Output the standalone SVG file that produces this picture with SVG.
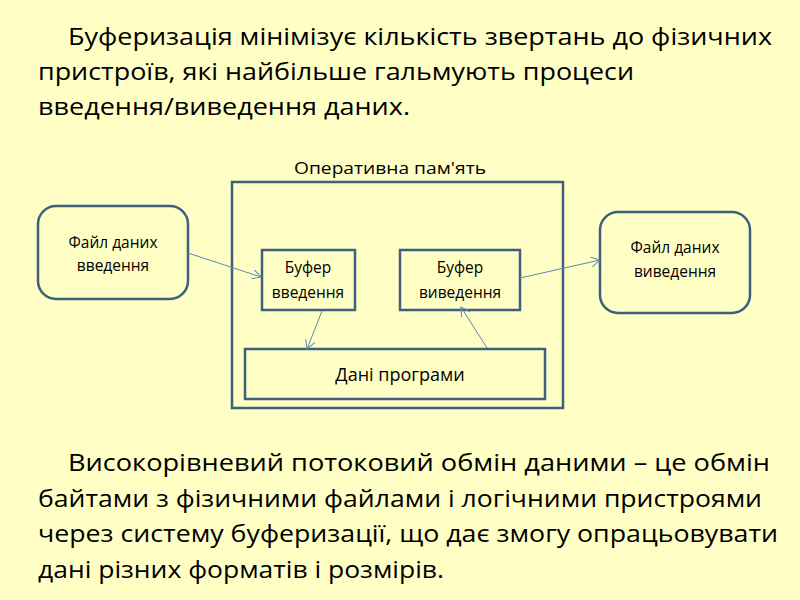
<svg xmlns="http://www.w3.org/2000/svg" width="800" height="600" viewBox="0 0 800 600">
<defs>
<style>
.t{font-family:"Open Sans","Liberation Sans",sans-serif;fill:#000}
.p{font-size:23px}
.n{font-size:15.5px;text-anchor:middle}
.box{fill:none;stroke:#3f5f7f;stroke-width:2.5}
.rbox{fill:#ffffc5;stroke:#3f5f7f;stroke-width:2.5}
.c{stroke:#5b86bd;stroke-width:1;fill:none;marker-end:url(#a)}
</style>
<marker id="a" viewBox="0 0 10 10" refX="9" refY="5" markerWidth="10" markerHeight="10" markerUnits="userSpaceOnUse" orient="auto">
<path d="M0,0 L9,5 L0,10" fill="none" stroke="#5b86bd" stroke-width="1"/>
</marker>
</defs>
<rect width="800" height="600" fill="#ffffc5"/>
<g id="top-text" class="t p">
<text x="68" y="45" textLength="704" lengthAdjust="spacingAndGlyphs">Буферизація мінімізує кількість звертань до фізичних</text>
<text x="38" y="80" textLength="596" lengthAdjust="spacingAndGlyphs">пристроїв, які найбільше гальмують процеси</text>
<text x="38" y="115" textLength="372" lengthAdjust="spacingAndGlyphs">введення/виведення даних.</text>
</g>
<g id="memory">
<rect class="box" x="232" y="182" width="331" height="226"/>
<text class="t n" x="390" y="174" style="font-size:17px" textLength="192" lengthAdjust="spacingAndGlyphs">Оперативна пам'ять</text>
</g>
<g id="input-file">
<rect class="rbox" x="38" y="206" width="150" height="93" rx="18"/>
<text class="t n" x="113" y="248">Файл даних</text>
<text class="t n" x="113" y="271">введення</text>
</g>
<g id="output-file">
<rect class="rbox" x="600" y="212" width="150" height="101" rx="18"/>
<text class="t n" x="675" y="253">Файл даних</text>
<text class="t n" x="675" y="277">виведення</text>
</g>
<g id="input-buffer">
<rect class="box" x="262" y="250" width="93" height="60"/>
<text class="t n" x="308" y="273">Буфер</text>
<text class="t n" x="308" y="298">введення</text>
</g>
<g id="output-buffer">
<rect class="box" x="400" y="250" width="120" height="60"/>
<text class="t n" x="460" y="273">Буфер</text>
<text class="t n" x="460" y="298">виведення</text>
</g>
<g id="program-data">
<rect class="box" x="245" y="349" width="300" height="50"/>
<text class="t n" x="400" y="381" style="font-size:18px">Дані програми</text>
</g>
<g id="connectors">
<line class="c" x1="188" y1="253" x2="261" y2="277"/>
<line class="c" x1="520" y1="278" x2="600" y2="260"/>
<line class="c" x1="322" y1="311" x2="307" y2="349"/>
<line class="c" x1="487" y1="348" x2="461" y2="307"/>
</g>
<g id="bottom-text" class="t p">
<text x="68" y="471" textLength="702" lengthAdjust="spacingAndGlyphs">Високорівневий потоковий обмін даними – це обмін</text>
<text x="38" y="507" textLength="724" lengthAdjust="spacingAndGlyphs">байтами з фізичними файлами і логічними пристроями</text>
<text x="38" y="542" textLength="740" lengthAdjust="spacingAndGlyphs">через систему буферизації, що дає змогу опрацьовувати</text>
<text x="38" y="578" textLength="406" lengthAdjust="spacingAndGlyphs">дані різних форматів і розмірів.</text>
</g>
</svg>
